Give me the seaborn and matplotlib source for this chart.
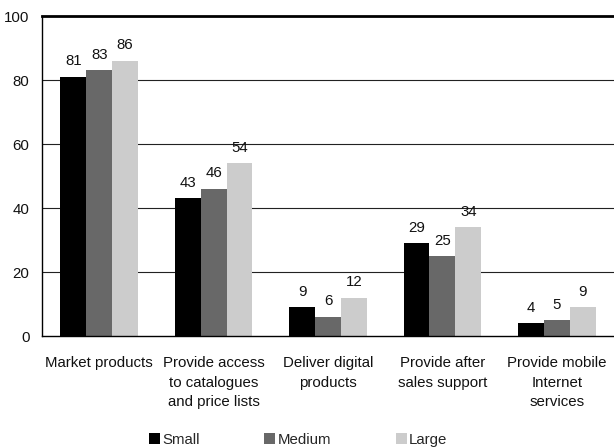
import matplotlib
matplotlib.use("Agg")
import matplotlib.pyplot as plt
from matplotlib.patches import Patch
from matplotlib.ticker import FixedLocator
import seaborn as sns
import pandas as pd

categories = [
    "Market products",
    "Provide access\nto catalogues\nand price lists",
    "Deliver digital\nproducts",
    "Provide after\nsales support",
    "Provide mobile\nInternet\nservices",
]
sizes = ["Small", "Medium", "Large"]
small = [81, 43, 9, 29, 4]
medium = [83, 46, 6, 25, 5]
large = [86, 54, 12, 34, 9]
colors = ["#000000", "#686868", "#cccccc"]

rows = []
for size, vals in zip(sizes, [small, medium, large]):
    for cat, v in zip(categories, vals):
        rows.append({"activity": cat, "size": size, "share": v})
df = pd.DataFrame(rows)

sns.set_theme(style="white")
plt.rcParams["font.family"] = ["Liberation Sans", "DejaVu Sans"]
FS = 10.8

fig = plt.figure(figsize=(6.14, 4.48), dpi=100)
ax = fig.add_axes([42 / 614, 1 - 336 / 448, (614 - 42) / 614, 320 / 448])

sns.barplot(data=df, x="activity", y="share", hue="size", order=categories,
            hue_order=sizes, palette=colors, width=0.68, saturation=1,
            edgecolor="none", linewidth=0, ax=ax, legend=False, zorder=2)

for cont in ax.containers:
    ax.bar_label(cont, fmt="%d", padding=6, fontsize=FS, color="#111111")

ax.set_ylim(0, 100)
ax.set_xlim(-0.5, 4.5)
ax.set_yticks([0, 20, 40, 60, 80, 100])
ax.set_xlabel("")
ax.set_ylabel("")

# horizontal reference lines
for yv in [20, 40, 60, 80]:
    ax.axhline(yv, color="#222222", linewidth=0.8, zorder=1)

for side in ["left", "bottom", "top"]:
    ax.spines[side].set_visible(True)
    ax.spines[side].set_color("black")
ax.spines["left"].set_linewidth(1.0)
ax.spines["bottom"].set_linewidth(1.0)
ax.spines["top"].set_linewidth(2.0)
ax.spines["right"].set_visible(False)

ax.tick_params(axis="y", length=0, pad=9, labelsize=FS, labelcolor="#111111")
ax.tick_params(axis="x", which="major", direction="inout", length=5, width=0.8,
               color="#333333", pad=12, labelsize=FS, labelcolor="#111111")
ax.xaxis.set_minor_locator(FixedLocator([0.5, 1.5, 2.5, 3.5]))
ax.tick_params(axis="x", which="minor", direction="inout", length=5, width=0.8,
               color="#333333")
for lbl in ax.get_xticklabels():
    lbl.set_linespacing(1.5)
    lbl.set_verticalalignment("top")

handles = [Patch(facecolor=c, edgecolor="none", label=s) for s, c in zip(sizes, colors)]
fig.legend(handles=handles, loc="center", bbox_to_anchor=(298 / 614, 1 - 440 / 448),
           ncol=3, frameon=False, fontsize=FS, handlelength=0.75, handleheight=0.75,
           handletextpad=0.15, columnspacing=4.3, borderaxespad=0)

fig.savefig("out.png", dpi=100)
